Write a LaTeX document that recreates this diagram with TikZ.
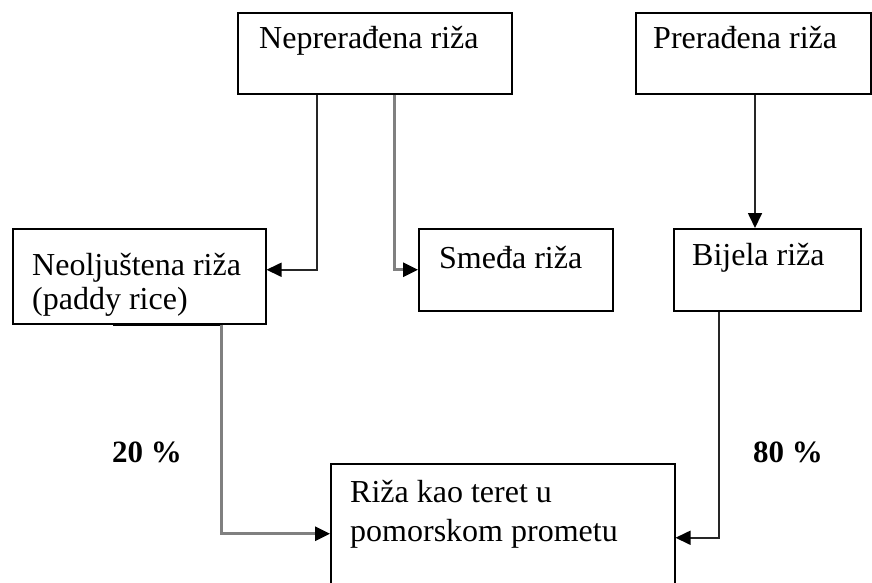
\documentclass[tikz,border=0pt]{standalone}
\usepackage{fontspec}
\setmainfont{Liberation Serif}
\usetikzlibrary{arrows.meta}
\usetikzlibrary{positioning}

\begin{document}
\begin{tikzpicture}[
  x=1pt, y=-1pt,
  box/.style={draw, line width=1.5pt, rectangle, inner sep=0pt, anchor=north west},
  txt/.style={inner sep=0pt, anchor=base west, align=left, font=\fontsize{32}{34}\selectfont},
  pct/.style={inner sep=0pt, anchor=base west, font=\bfseries\fontsize{31}{34}\selectfont},
  darkconn/.style={draw=black!85, line width=1.7pt, -{Triangle[length=15pt,width=14pt,color=black]}},
  grayconn/.style={draw=black!50, line width=3pt, -{Triangle[length=15pt,width=14pt,color=black]}}
]
\useasboundingbox (0,0) rectangle (872,582);

% boxes
\node[box, minimum width=274pt, minimum height=81pt]  (nepr)   at (237,12)  {};
\node[box, minimum width=235pt, minimum height=81pt]  (prer)   at (635,12)  {};
\node[box, minimum width=253pt, minimum height=95pt]  (neolj)  at (12,228)  {};
\node[box, minimum width=194pt, minimum height=82pt]  (smeda)  at (418,228) {};
\node[box, minimum width=187pt, minimum height=82pt]  (bijela) at (673,228) {};
\node[box, minimum width=344pt, minimum height=140pt] (riza)   at (330,463) {};

% texts (base = last line)
\node[txt] (neprtxt)   at (259,48)  {Neprerađena riža};
\node[txt] (prertxt)   at (653,48)  {Prerađena riža};
\node[txt] (neoljtxt)  at (32,309)  {Neoljuštena riža\\(paddy rice)};
\node[txt] (smedatxt)  at (439,268) {Smeđa riža};
\node[txt] (bijelatxt) at (692,265) {Bijela riža};
\node[txt, font=\fontsize{32}{39}\selectfont] (rizatxt) at (350,541) {Riža kao teret u\\pomorskom prometu};

\node[pct] (p20) at (112,462) {20 \%};
\node[pct] (p80) at (753,462) {80 \%};

% connectors
\draw[darkconn] ([xshift=80pt]nepr.south west) |- ([yshift=6.5pt]neolj.east);
\draw[grayconn] ([xshift=157pt]nepr.south west) |- (smeda.west);
\draw[darkconn] ([xshift=120pt]prer.south west) -- ([xshift=120pt]prer.south west |- bijela.north);
\draw[line width=3.2pt] ([xshift=101pt]neolj.south west) -- ([xshift=209pt]neolj.south west);
\draw[grayconn] ([xshift=209pt]neolj.south west) |- (riza.west);
\draw[darkconn] ([xshift=46pt]bijela.south west) |- ([yshift=-4pt]riza.east);
\end{tikzpicture}
\end{document}
